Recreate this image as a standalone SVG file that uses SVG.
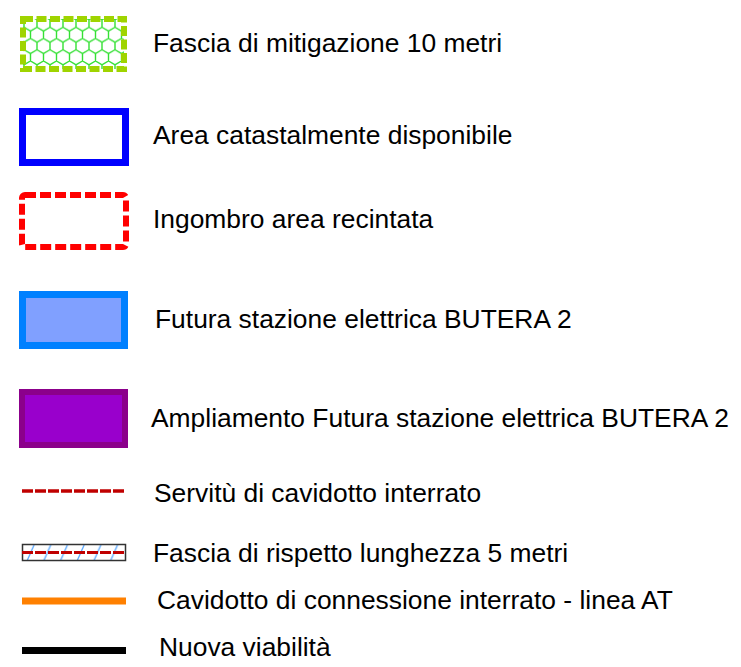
<svg xmlns="http://www.w3.org/2000/svg" width="741" height="667" viewBox="0 0 741 667">
<style>
text{font-family:"Liberation Sans",Arial,sans-serif;font-size:26.4px;fill:#000}
</style>
<defs>
<pattern id="hex" patternUnits="userSpaceOnUse" x="24" y="16" width="13" height="22.5">
<path d="M6.5,0 L13,3.75 L13,11.25 L6.5,15 L0,11.25 L0,3.75 Z M6.5,15 L6.5,22.5" fill="none" stroke="#33e033" stroke-width="1.4"/>
</pattern>
<pattern id="hatch" patternUnits="userSpaceOnUse" x="25" y="545" width="16.7" height="16">
<line x1="2" y1="16" x2="9" y2="0" stroke="#5aa8ff" stroke-width="1.3"/>
</pattern>
</defs>
<rect width="741" height="667" fill="#fff"/>
<g id="mitigazione">
<rect x="23" y="19" width="101" height="50" fill="url(#hex)" stroke="#9fd400" stroke-width="6" stroke-dasharray="10 3.5"/>
<text x="153" y="52">Fascia di mitigazione 10 metri</text>
</g>
<g id="catastale">
<rect x="22.5" y="111.5" width="103" height="51" fill="#fff" stroke="#0000ff" stroke-width="7"/>
<text x="153" y="144">Area catastalmente disponibile</text>
</g>
<g id="recintata">
<rect x="22" y="195" width="104" height="52" rx="3" fill="#fff" stroke="#ff0000" stroke-width="6" stroke-dasharray="11 4"/>
<text x="153" y="228">Ingombro area recintata</text>
</g>
<g id="stazione">
<rect x="22.5" y="294.5" width="102" height="51" fill="#80a0ff" stroke="#0080ff" stroke-width="7"/>
<text x="155" y="328">Futura stazione elettrica BUTERA 2</text>
</g>
<g id="ampliamento">
<rect x="22" y="392" width="103" height="53" fill="#9900cc" stroke="#8b008b" stroke-width="6"/>
<text x="151" y="427">Ampliamento Futura stazione elettrica BUTERA 2</text>
</g>
<g id="servitu">
<line x1="22" y1="491" x2="126" y2="491" stroke="#c00000" stroke-width="3.5" stroke-dasharray="11 2"/>
<text x="154" y="502">Servitù di cavidotto interrato</text>
</g>
<g id="rispetto">
<rect x="22.5" y="544.5" width="103" height="16" fill="url(#hatch)" stroke="#333" stroke-width="1.5"/>
<line x1="22" y1="552.5" x2="126" y2="552.5" stroke="#c00000" stroke-width="3.2" stroke-dasharray="11 2"/>
<text x="153" y="562">Fascia di rispetto lunghezza 5 metri</text>
</g>
<g id="cavidotto_at">
<line x1="22" y1="601" x2="126" y2="601" stroke="#ff8000" stroke-width="7"/>
<text x="157" y="609">Cavidotto di connessione interrato - linea AT</text>
</g>
<g id="viabilita">
<line x1="22" y1="650.5" x2="126" y2="650.5" stroke="#000" stroke-width="7"/>
<text x="159" y="656">Nuova viabilità</text>
</g>
<g id="connectors"/>
</svg>
